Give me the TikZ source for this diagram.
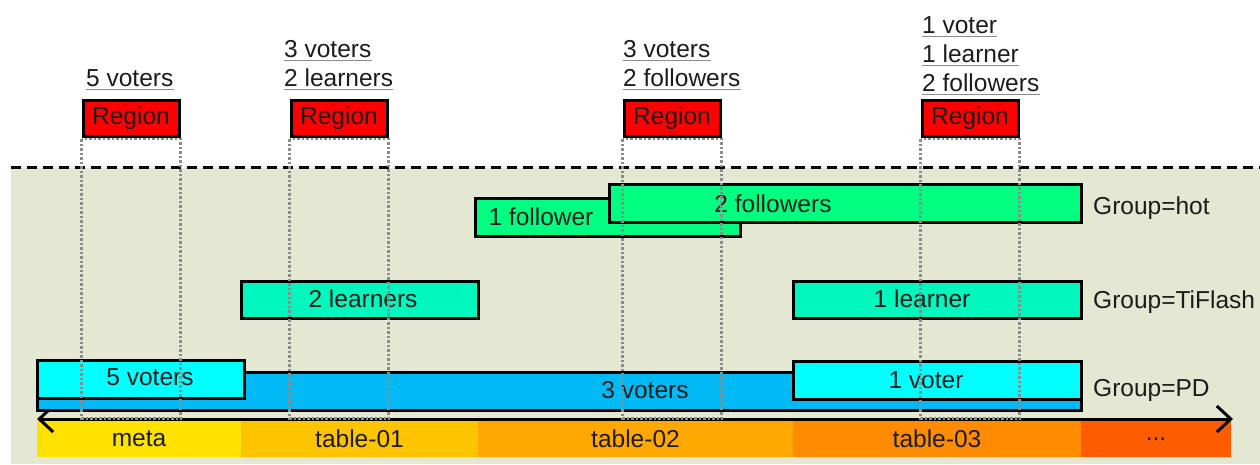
\documentclass[tikz,border=0pt]{standalone}
\usepackage{fontspec}
\setmainfont{Liberation Sans}
\usetikzlibrary{arrows.meta,shadows}
\definecolor{bgc}{HTML}{E4E7D2}
\definecolor{regred}{HTML}{FF0000}
\definecolor{hotc}{HTML}{00FF80}
\definecolor{tifc}{HTML}{00F8BE}
\definecolor{cyanc}{HTML}{00FFFF}
\definecolor{bluec}{HTML}{00B9F5}
\definecolor{s1}{HTML}{FFE200}
\definecolor{s2}{HTML}{FFC400}
\definecolor{s3}{HTML}{FFA800}
\definecolor{s4}{HTML}{FF8C00}
\definecolor{s5}{HTML}{FF5C00}
\definecolor{txtc}{HTML}{1C1C1C}
\definecolor{guidec}{HTML}{8C8C8C}
\tikzset{
  every node/.style={font=\fontsize{24.5}{29}\selectfont, text=txtc},
  region/.style={draw=black, line width=3, fill=regred, minimum width=96, minimum height=36, inner sep=0,
     drop shadow={shadow xshift=1.5pt, shadow yshift=-1.5pt, opacity=0.2}},
  bar/.style={draw=black, line width=3, anchor=north west, inner sep=0, outer sep=0,
     drop shadow={shadow xshift=2pt, shadow yshift=-2pt, opacity=0.3}},
  seg/.style={anchor=north west, inner sep=0, outer sep=0, minimum height=36, text depth=0},
  lbl/.style={anchor=base west, inner sep=0},
  ctext/.style={inner sep=0, text height=17, text depth=0},
  ul/.style={guidec, line width=1.8},
  guide/.style={guidec, line width=2.5, dash pattern=on 2.5 off 2},
  axisline/.style={line width=3, {Straight Barb[length=14,width=26,line width=3]}-{Straight Barb[length=14,width=26,line width=3]}}
}
\newcommand{\ulab}[3]{\node[lbl] (#1) at (#2) {#3};
  \draw[ul] ([yshift=-3.5pt]#1.base west) -- ([yshift=-3.5pt]#1.base east);}
\begin{document}
\begin{tikzpicture}[x=1pt,y=-1pt]
\useasboundingbox (0,0) rectangle (1260,464);
\fill[bgc] (11,168) rectangle (1260,464);
\draw[line width=3, dash pattern=on 10 off 6] (11,167) -- (1260,167);

% color strip
\node[seg, fill=s1, minimum width=204] (meta) at (37,421) {meta};
\node[seg, fill=s2, minimum width=237] (t1) at (241,421) {table-01};
\node[seg, fill=s3, minimum width=315] (t2) at (478,421) {table-02};
\node[seg, fill=s4, minimum width=288] (t3) at (793,421) {table-03};
\node[seg, fill=s5, minimum width=150] (more) at (1081,421) {...};

% axis
\coordinate (axL) at (37,419);
\coordinate (axR) at (1233,419);
\draw[axisline] (axL) -- (axR);

% bars
\node[bar, fill=bluec, minimum width=1044, minimum height=38] (pd3) at (37,372) {};
\node[bar, fill=cyanc, minimum width=207, minimum height=38] (pd5) at (37,360) {};
\node[bar, fill=cyanc, minimum width=288, minimum height=38] (pd1) at (793,361) {};
\node[bar, fill=tifc, minimum width=237, minimum height=37] (tf2) at (241,281) {};
\node[bar, fill=tifc, minimum width=288, minimum height=37] (tf1) at (793,281) {};
\node[bar, fill=hotc, minimum width=265, minimum height=38] (hf1) at (475,198) {};
\node[bar, fill=hotc, minimum width=472, minimum height=38] (hf2) at (609,184) {};

% bar texts
\node[ctext] (hf1t) at (541,217) {1 follower};
\node[ctext] (hf2t) at (773,204) {2 followers};
\node[ctext] (tf2t) at (363,299) {2 learners};
\node[ctext] (tf1t) at (922,299) {1 learner};
\node[ctext] (pd5t) at (150,377) {5 voters};
\node[ctext] (pd1t) at (926,380) {1 voter};
\node[ctext] (pd3t) at (645,390) {3 voters};

% group labels
\node[ctext, anchor=west] (ghot) at (1093,206) {Group=hot};
\node[ctext, anchor=west] (gtif) at (1093,300) {Group=TiFlash};
\node[ctext, anchor=west] (gpd) at (1093,388) {Group=PD};

% regions
\node[region] (r1) at (131,118) {Region};
\node[region] (r2) at (339,118) {Region};
\node[region] (r3) at (672,118) {Region};
\node[region] (r4) at (970,118) {Region};

% region labels
\ulab{l1a}{86,86}{5 voters}
\ulab{l2a}{284,57}{3 voters}
\ulab{l2b}{284,86}{2 learners}
\ulab{l3a}{623,57}{3 voters}
\ulab{l3b}{623,86}{2 followers}
\ulab{l4a}{922,33}{1 voter}
\ulab{l4b}{922,62}{1 learner}
\ulab{l4c}{922,91}{2 followers}

% guides
\coordinate (gb) at (0,417);
\foreach \r in {r1,r2,r3,r4}{
  \draw[guide] ([yshift=-1.5pt]\r.south west) rectangle ([yshift=-1.5pt]\r.south east |- gb);
}
\end{tikzpicture}
\end{document}
